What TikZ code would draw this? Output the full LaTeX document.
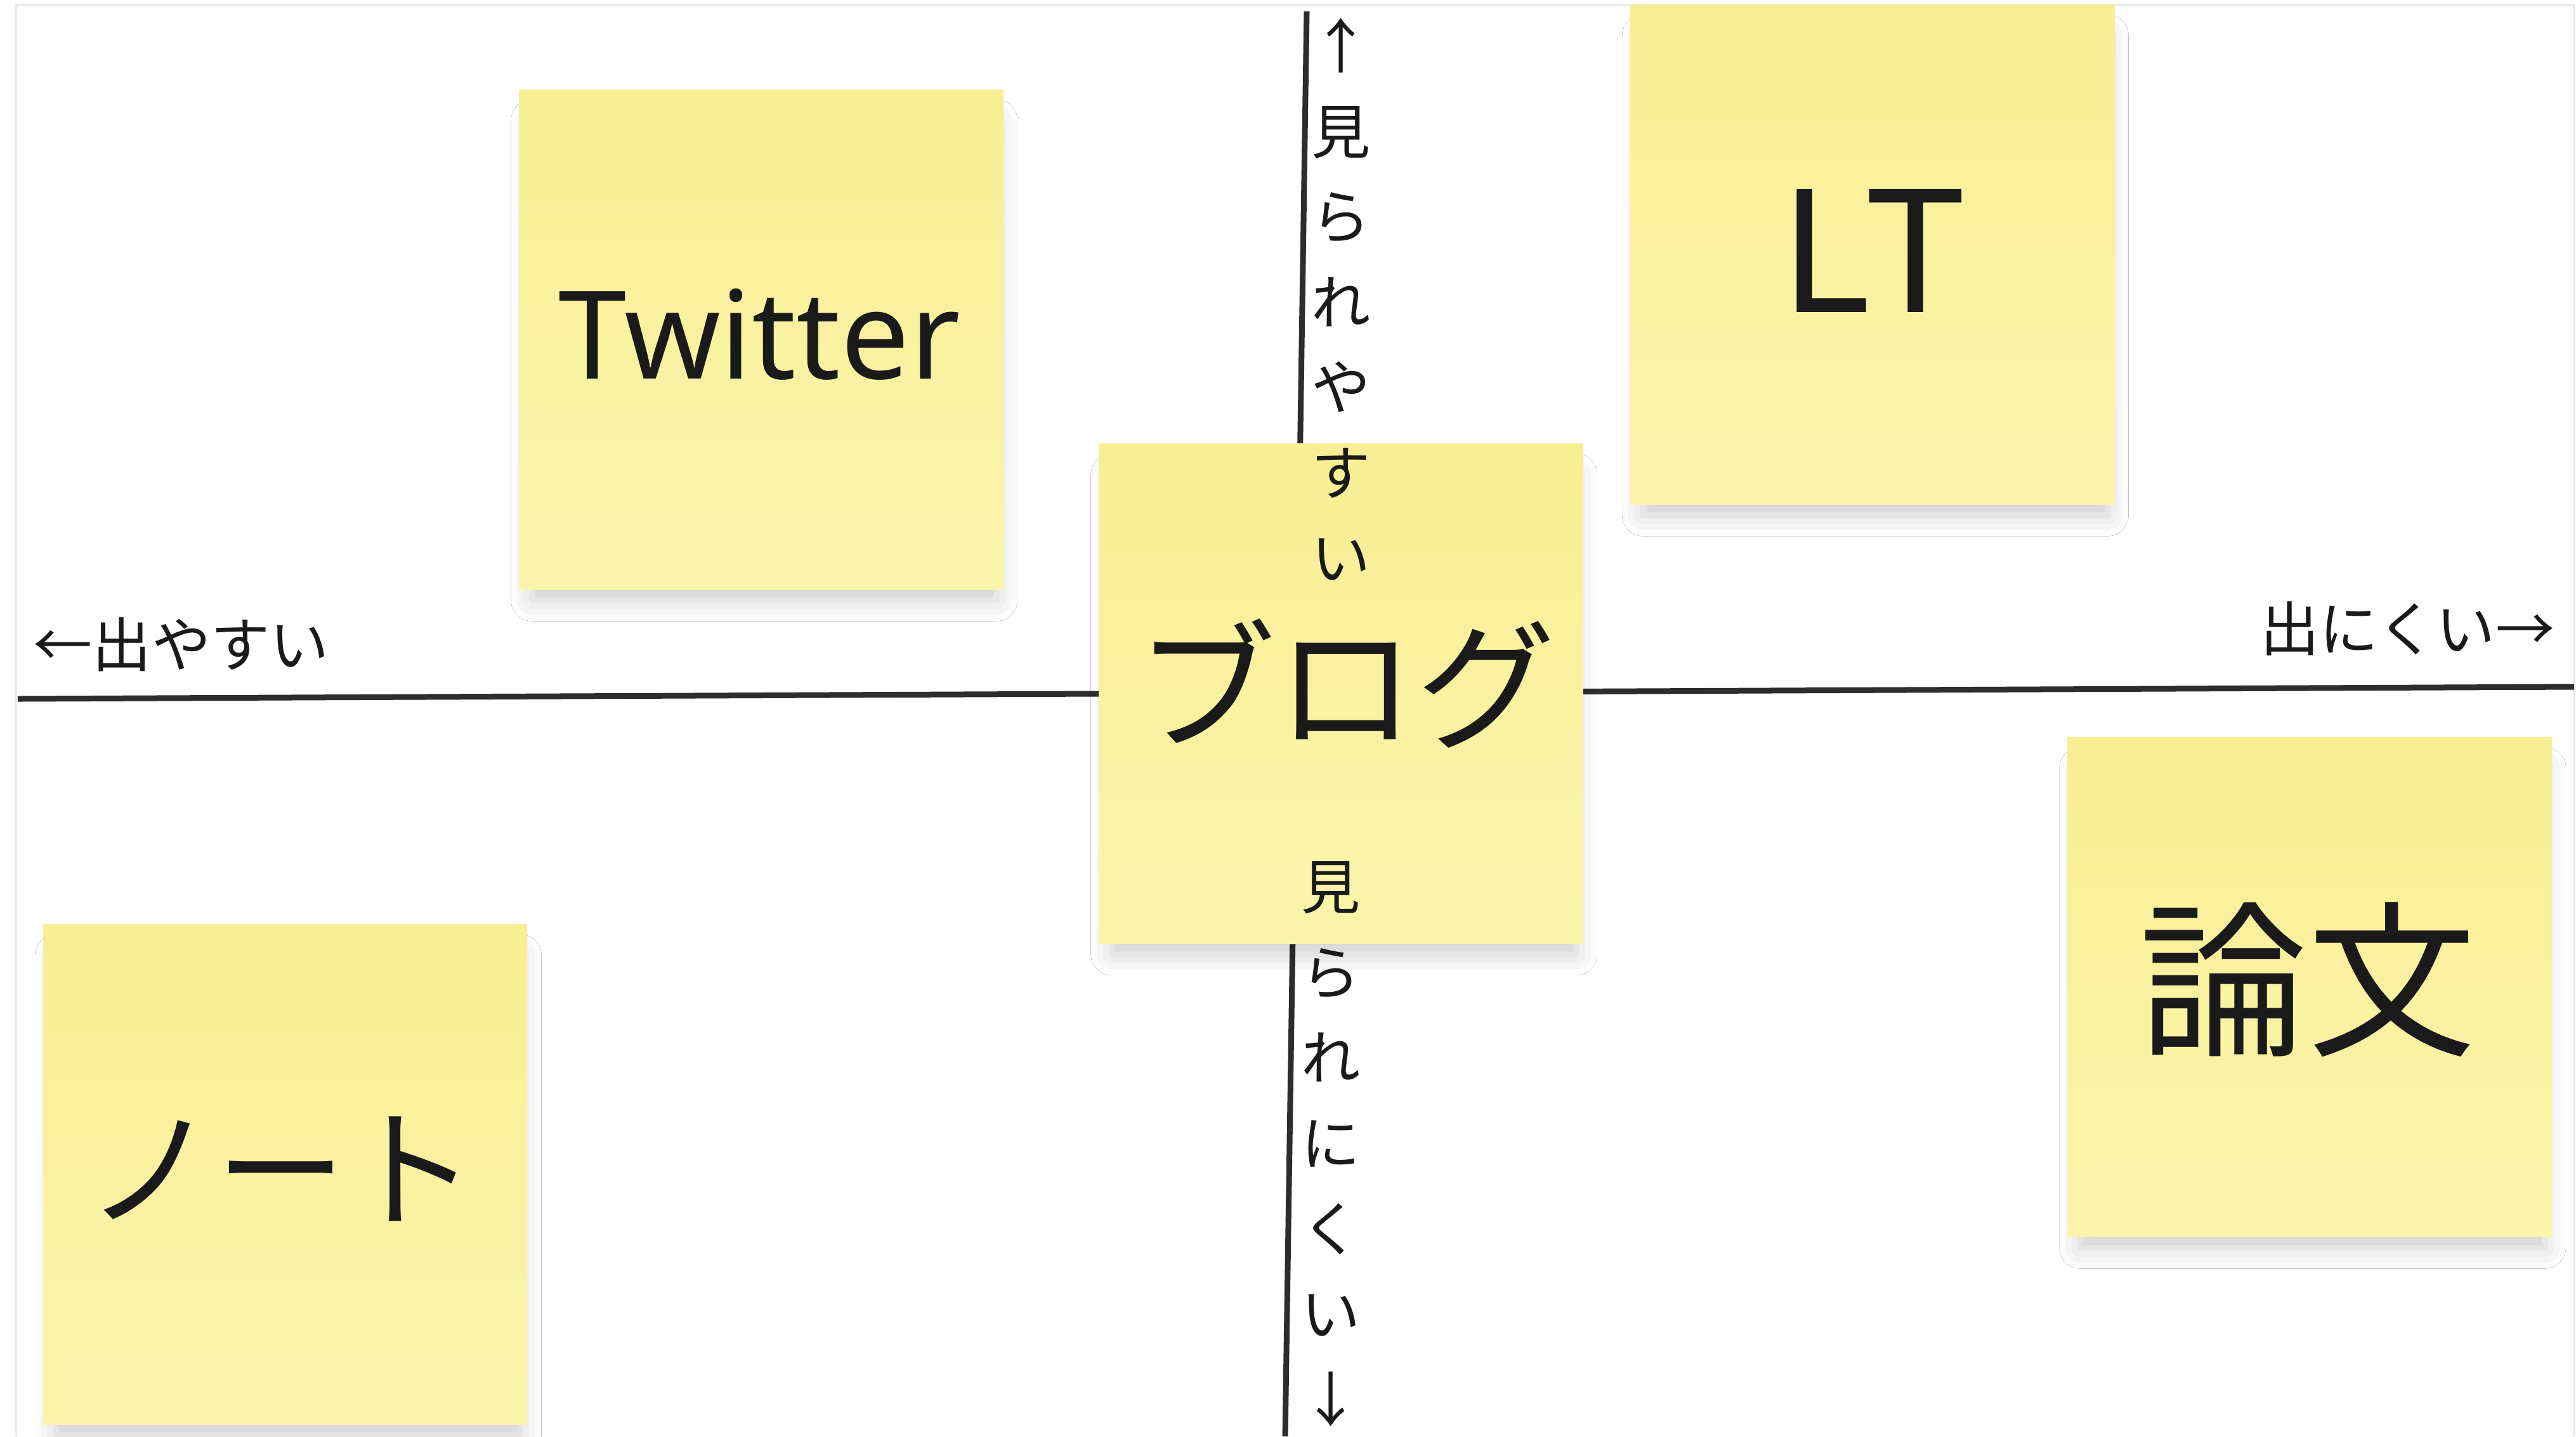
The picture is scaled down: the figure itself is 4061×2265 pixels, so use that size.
\documentclass[tikz,border=0pt]{standalone}
\usepackage{fontspec}
\setmainfont{Noto Sans CJK JP}
\newfontfamily\latinfont{Noto Sans}
\usetikzlibrary{shadows.blur}
\definecolor{notetop}{RGB}{248,239,148}
\definecolor{notebot}{RGB}{250,244,172}
\definecolor{inkc}{RGB}{26,26,26}
\definecolor{axisc}{RGB}{45,45,45}
\definecolor{framec}{RGB}{234,234,234}
\begin{document}
\begin{tikzpicture}[x=0.01cm,y=-0.01cm,
  note/.style={rectangle, inner sep=0pt, minimum width=7.63cm, minimum height=7.88cm,
    top color=notetop, bottom color=notebot, draw=none,
    blur shadow={shadow xshift=0.05cm, shadow yshift=-0.34cm, shadow scale=0.96,
      shadow blur radius=0.34cm, shadow opacity=20}},
  bigjp/.style={inner sep=0pt, text=inkc, font=\fontsize{62.6pt}{70pt}\selectfont},
  biglat/.style={inner sep=0pt, text=inkc},
  axislabel/.style={inner sep=0pt, text=inkc, font=\fontsize{26.5pt}{38.27pt}\selectfont},
  axisline/.style={draw=axisc, line width=0.09cm},
  frameline/.style={draw=framec, line width=0.045cm}
]
\useasboundingbox (0,0) rectangle (4061,2265);
\fill[white] (0,0) rectangle (4061,2265);

% frame
\coordinate (f1) at (25,2265);
\coordinate (f2) at (25,8);
\coordinate (f3) at (4058,8);
\coordinate (f4) at (4058,2265);
\draw[frameline] (f1) -- (f2) -- (f3) -- (f4);

% axes
\coordinate (hl) at (28,1102);
\coordinate (hr) at (4058,1083);
\coordinate (vt) at (2060,18);
\coordinate (vb) at (2026,2265);
\draw[axisline] (hl) -- (hr);
\draw[axisline] (vt) -- (vb);

% sticky notes
\node[note] (ntw) at (1200,535.5) {};
\node[note] (nlt) at (2951.5,401.5) {};
\node[note] (nbl) at (2114,1094) {};
\node[note] (nno) at (449.5,1852) {};
\node[note] (nro) at (3641,1556.5) {};

% note texts
\node[biglat, font=\fontsize{54.9pt}{60pt}\selectfont\latinfont] (ttw) at (1197,527) {Twitter};
\node[biglat, font=\fontsize{77.3pt}{85pt}\selectfont\latinfont] (tlt) at (2951,395) {LT};
\node[bigjp] (tbl) at (2122,1078) {ブログ};
\node[bigjp, font=\fontsize{58.3pt}{66pt}\selectfont] (tno) at (443,1843) {ノート};
\node[bigjp, font=\fontsize{75.4pt}{82pt}\selectfont] (tro) at (3638,1545) {論文};

% axis labels
\node[axislabel, anchor=west] (lleft) at (52,1016) {←出やすい};
\node[axislabel, anchor=east] (lright) at (4028,991) {出にくい→};
\node[axislabel, align=left, anchor=north west] (lup) at (2067,28) {↑\\見\\ら\\れ\\や\\す\\い};
\node[axislabel, align=left, anchor=north west] (ldown) at (2051,1358) {見\\ら\\れ\\に\\く\\い\\↓};
\end{tikzpicture}
\end{document}
